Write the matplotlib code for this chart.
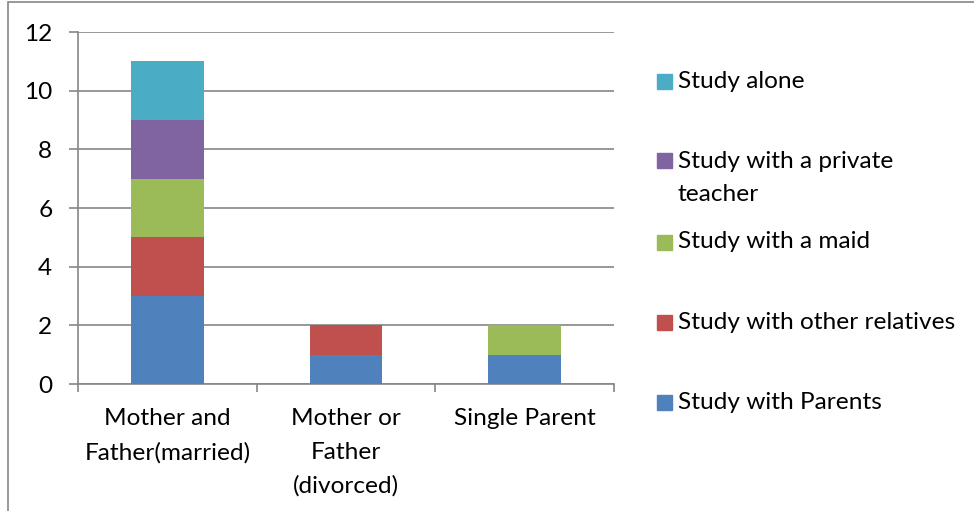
import matplotlib.pyplot as plt
from matplotlib.patches import Rectangle
import numpy as np

plt.rcParams['font.family'] = ['Lato', 'DejaVu Sans']

categories = ["Mother and\nFather(married)", "Mother or\nFather\n(divorced)", "Single Parent"]
series_names = ["Study with Parents", "Study with other relatives", "Study with a maid",
                "Study with a private teacher", "Study alone"]
legend_labels = ["Study with Parents", "Study with other relatives", "Study with a maid",
                 "Study with a private\nteacher", "Study alone"]
parents = [3, 1, 1]
relatives = [2, 1, 0]
maid = [2, 0, 1]
private_teacher = [2, 0, 0]
alone = [2, 0, 0]
values = [parents, relatives, maid, private_teacher, alone]
colors = ["#4F81BD", "#C0504D", "#9BBB59", "#8064A2", "#4BACC6"]
yticks = [0, 2, 4, 6, 8, 10, 12]

W, H = 974, 511
fs = 17.6
fig = plt.figure(figsize=(W / 100, H / 100), dpi=100)
grey = "#868686"

# outer chart frame
fig.patches.append(Rectangle((8 / W, -0.1), 1.2, (H - 2) / H + 0.1, transform=fig.transFigure,
                             fill=False, edgecolor=grey, linewidth=1.2))

ax = fig.add_axes([78 / W, (H - 384) / H, (614 - 78) / W, (384 - 32) / H])
x = np.arange(len(categories))
bottom = np.zeros(len(categories))
for vals, c in zip(values, colors):
    ax.bar(x, vals, width=0.405, bottom=bottom, color=c, zorder=3)
    bottom += np.array(vals)

ax.set_xlim(-0.5, len(categories) - 0.5)
ax.set_ylim(0, 12)
ax.set_yticks(yticks)
ax.yaxis.grid(True, color=grey, linewidth=1.2, zorder=0)
ax.set_axisbelow(True)
for s in ["top", "right"]:
    ax.spines[s].set_visible(False)
for s in ["left", "bottom"]:
    ax.spines[s].set_color(grey)
    ax.spines[s].set_linewidth(1.2)
ax.tick_params(axis="y", length=6.5, width=1.2, color=grey, pad=12, labelsize=fs)

ax.set_xticks(np.arange(len(categories) + 1) - 0.5)
ax.set_xticklabels([])
ax.tick_params(axis="x", which="major", length=6, width=1.2, color=grey)
ax.set_xticks(x, minor=True)
ax.set_xticklabels(categories, minor=True, linespacing=1.72, va="top")
ax.tick_params(axis="x", which="minor", length=0, pad=17.5, labelsize=fs)

# legend, listed top to bottom
legend_y = [403, 323, 243, 161, 82]
for name, c, ly in zip(legend_labels, colors, legend_y):
    fig.patches.append(Rectangle((657 / W, (H - ly - 7) / H), 15 / W, 15 / H,
                                 transform=fig.transFigure, color=c))
    if "\n" in name:
        fig.text(678 / W, (H - ly + 10) / H, name, fontsize=fs, va="top",
                 ha="left", linespacing=1.68)
    else:
        fig.text(678 / W, (H - ly + 1) / H, name, fontsize=fs, va="center", ha="left")

fig.savefig("out.png", dpi=100)
